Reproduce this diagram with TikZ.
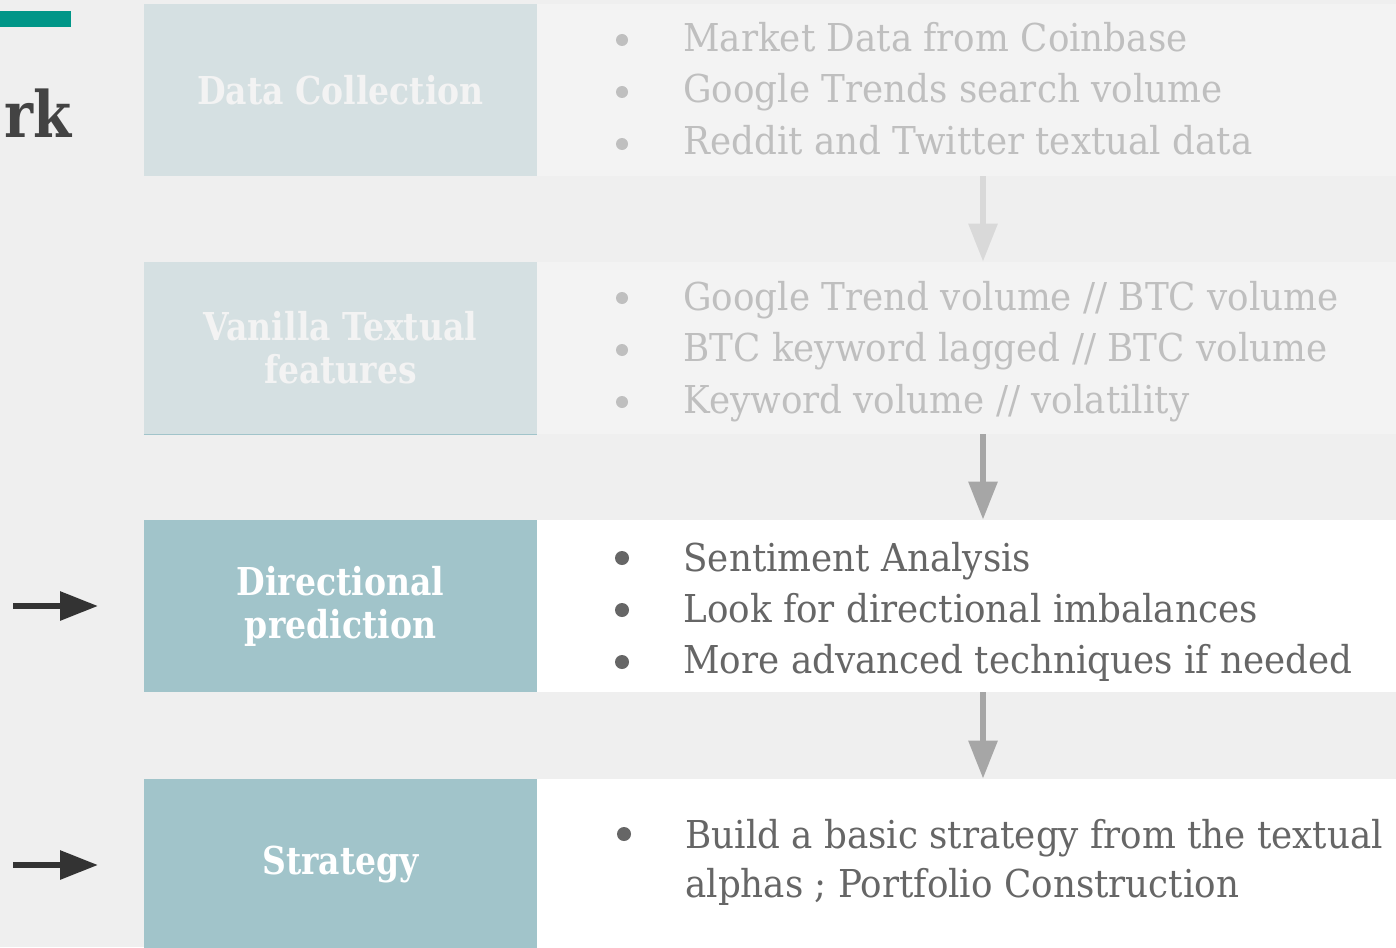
\documentclass[tikz,border=0pt]{standalone}
\usepackage{fontspec}
\setmainfont{DejaVu Serif}[FakeStretch=0.93, BoldFeatures={FakeStretch=0.86}]
\usetikzlibrary{arrows.meta,positioning}
\definecolor{bgcol}{HTML}{EFEFEF}
\definecolor{tealbar}{HTML}{009688}
\definecolor{titlegrey}{HTML}{434343}
\definecolor{boxfaded}{HTML}{D5E0E2}
\definecolor{boxactive}{HTML}{A1C4CA}
\definecolor{panelfaded}{HTML}{F3F3F3}
\definecolor{txtfaded}{HTML}{BFBFBF}
\definecolor{txtactive}{HTML}{666666}
\definecolor{flowfaded}{HTML}{D9D9D9}
\definecolor{flowactive}{HTML}{A6A6A6}
\definecolor{pointerdark}{HTML}{333333}
\tikzset{
  stage/.style={fill=#1, minimum width=196.5pt, minimum height=86pt, inner sep=0pt,
    align=center, font=\fontsize{19.2}{21.5}\selectfont\bfseries},
  panel/.style={fill=#1, minimum width=429.5pt, minimum height=86pt, inner sep=0pt},
  item/.style={anchor=base west, inner sep=0pt, text=#1, font=\fontsize{19.2}{24}\selectfont},
  flow/.style={draw=#1, line width=3pt, -{Triangle[width=14pt,length=19pt]}},
  pointer/.style={draw=pointerdark, line width=3pt, -{Triangle[width=14pt,length=19pt]}},
}
\begin{document}
\begin{tikzpicture}[x=0.5pt,y=-0.5pt]
  \fill[bgcol] (0,0) rectangle (1396,947);
  \useasboundingbox (0,0) rectangle (1396,947);
  \clip (0,0) rectangle (1396,947);
  \fill[tealbar] (0,11) rectangle (71,27);
  \node[anchor=base east, inner sep=0pt, text=titlegrey, font=\fontsize{32}{38}\selectfont\bfseries] (title) at (72,137) {rk};

  % left boxes and right panels
  \node[stage=boxfaded, text=panelfaded] (dc) at (340.5,90) {Data Collection};
  \node[panel=panelfaded] (dcpanel) at (966.5,90) {};
  \node[stage=boxfaded, text=panelfaded] (vt) at (340.5,348) {Vanilla Textual\\features};
  \node[panel=panelfaded] (vtpanel) at (966.5,348) {};
  \draw[boxactive, line width=0.6pt] (vt.south west) -- (vt.south east);
  \node[stage=boxactive, text=white] (dp) at (340.5,606) {Directional\\prediction};
  \node[panel=white] (dppanel) at (966.5,606) {};
  \node[stage=boxactive, text=white] (st) at (340.5,865) {Strategy};
  \node[panel=white] (stpanel) at (966.5,865) {};

  % bullet lists
  \fill[txtfaded] (622,40) circle (6) (622,92) circle (6) (622,144) circle (6);
  \node[item=txtfaded] (dc1) at (683,52) {Market Data from Coinbase};
  \node[item=txtfaded] (dc2) at (683,103) {Google Trends search volume};
  \node[item=txtfaded] (dc3) at (683,155) {Reddit and Twitter textual data};
  \fill[txtfaded] (622,298) circle (6) (622,350) circle (6) (622,402) circle (6);
  \node[item=txtfaded] (vt1) at (683,310) {Google Trend volume // BTC volume};
  \node[item=txtfaded] (vt2) at (683,361) {BTC keyword lagged // BTC volume};
  \node[item=txtfaded] (vt3) at (683,413) {Keyword volume // volatility};
  \fill[txtactive] (622,558) circle (7) (622,610) circle (7) (622,662) circle (7);
  \node[item=txtactive] (dp1) at (683,571) {Sentiment Analysis};
  \node[item=txtactive] (dp2) at (683,622) {Look for directional imbalances};
  \node[item=txtactive] (dp3) at (683,673) {More advanced techniques if needed};
  \fill[txtactive] (624,834) circle (7);
  \node[item=txtactive] (st1) at (685,848) {Build a basic strategy from the textual};
  \node[item=txtactive] (st2) at (685,897) {alphas ; Portfolio Construction};

  % arrows between stages
  \coordinate (ax) at (983,0);
  \draw[flow=flowfaded] (dcpanel.south -| ax) -- (vtpanel.north -| ax);
  \draw[flow=flowactive] (vtpanel.south -| ax) -- (dppanel.north -| ax);
  \draw[flow=flowactive] (dppanel.south -| ax) -- (stpanel.north -| ax);
  \coordinate (p1) at (13,606);
  \coordinate (p2) at (98,606);
  \coordinate (q1) at (13,865);
  \coordinate (q2) at (98,865);
  \draw[pointer] (p1) -- (p2);
  \draw[pointer] (q1) -- (q2);
\end{tikzpicture}
\end{document}
